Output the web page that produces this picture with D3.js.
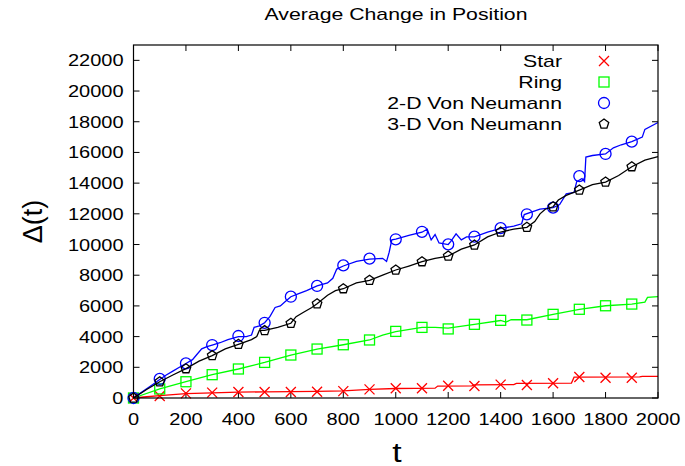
<!DOCTYPE html>
<html>
<head>
<meta charset="utf-8">
<script src="https://cdn.jsdelivr.net/npm/d3@7"></script>
<style>
  body { margin: 0; background: #fff; }
  svg text { font-family: "Liberation Sans", Arial, sans-serif; fill: #000; }
</style>
</head>
<body>
<div id="chart"></div>
<script>
// series names, in legend order
const seriesNames = ["Star", "Ring", "2-D Von Neumann", "3-D Von Neumann"];
const seriesColors = ["#ff0000", "#00ff00", "#0000ff", "#000000"];

// dense traces [t, delta]
const star = [[0,0],[50,80],[100,150],[200,280],[300,340],[400,380],[500,400],[600,410],[700,430],
  [800,470],[900,560],[1000,620],[1150,640],[1160,780],[1290,790],[1300,860],[1450,870],[1460,950],
  [1670,970],[1680,1360],[1930,1370],[1940,1410],[2000,1410]];

const ring = [[0,0],[100,590],[200,1060],[300,1520],[400,1890],[500,2320],[600,2800],[700,3190],
  [800,3470],[900,3780],[950,4100],[1000,4330],[1100,4600],[1150,4600],[1200,4550],[1300,4800],
  [1400,5050],[1420,4950],[1440,5100],[1500,5100],[1600,5450],[1700,5780],[1800,6010],[1900,6120],
  [1950,6250],[1960,6550],[2000,6600]];

const vn2d = [[0,0],[25,300],[50,600],[75,900],[100,1200],[125,1500],[150,1750],[175,2000],[200,2250],
  [225,2500],[240,2800],[260,3200],[280,3350],[300,3450],[330,3600],[360,3800],[400,4000],[430,4000],
  [450,4100],[460,4600],[480,4700],[500,4900],[520,5300],[540,5900],[560,6000],[580,6300],[600,6600],
  [630,6800],[660,7000],[700,7300],[740,7500],[760,7800],[775,8400],[800,8600],[850,8900],[900,9050],
  [950,9100],[965,8900],[975,9500],[985,10300],[1000,10350],[1050,10600],[1100,10800],[1120,11000],
  [1135,10300],[1150,10650],[1165,10100],[1200,10000],[1210,10200],[1230,10700],[1250,10300],
  [1270,10500],[1300,10500],[1350,10800],[1400,11050],[1450,11200],[1480,11350],[1490,11950],
  [1550,12300],[1600,12400],[1625,12600],[1650,13300],[1680,13400],[1690,14100],[1710,14300],
  [1720,14100],[1725,15700],[1750,15800],[1800,15900],[1830,16300],[1860,16500],[1900,16700],
  [1940,17000],[1950,17500],[2000,17950]];

const vn3d = [[0,0],[50,550],[100,1060],[150,1500],[200,1910],[250,2400],[300,2760],[350,3200],
  [400,3500],[450,3800],[470,4000],[480,4400],[500,4400],[550,4600],[600,4870],[620,5300],[650,5600],
  [680,5900],[700,6140],[740,6700],[770,7000],[800,7120],[850,7500],[900,7670],[950,8000],[1000,8340],
  [1050,8600],[1100,8880],[1150,9100],[1200,9250],[1250,9700],[1300,9970],[1350,10500],[1400,10815],
  [1450,11000],[1500,11120],[1530,11500],[1550,12000],[1570,12300],[1600,12460],[1620,12900],
  [1650,13200],[1700,13550],[1750,13900],[1800,14070],[1850,14500],[1900,15070],[1950,15500],
  [2000,15720]];

// point markers every 100 steps
const markerT = [0,100,200,300,400,500,600,700,800,900,1000,1100,1200,1300,1400,1500,1600,1700,1800,1900];
const starMarks = [0,130,300,350,390,390,390,410,450,560,630,630,800,780,870,850,960,1370,1320,1320];
const ringMarks = [0,590,1060,1520,1890,2320,2800,3190,3470,3780,4340,4600,4500,4800,5060,5080,5450,5780,6010,6120];
const vn2dMarks = [0,1240,2260,3450,4040,4900,6600,7300,8640,9080,10340,10830,10010,10510,11070,11970,12400,14460,15900,16700];
const vn3dMarks = [0,1060,1910,2760,3500,4390,4870,6140,7120,7670,8340,8880,9250,9970,10815,11120,12460,13550,14070,15070];

const xTicks = [0,200,400,600,800,1000,1200,1400,1600,1800,2000];
const yTicks = [0,2000,4000,6000,8000,10000,12000,14000,16000,18000,20000,22000];

const width = 685, height = 466;
const margin = {left: 133.5, right: 27, top: 45, bottom: 68};
const stretch = 1.25; // text in the picture is drawn wider than normal

const svg = d3.select("#chart").append("svg")
  .attr("width", width).attr("height", height);

const x = d3.scaleLinear().domain([0, 2000]).range([margin.left, width - margin.right]);
const y = d3.scaleLinear().domain([0, 23000]).range([height - margin.bottom, margin.top]);

function label(txt, px, py, size, anchor) {
  return svg.append("text")
    .attr("transform", `translate(${px},${py}) scale(${stretch},1)`)
    .attr("text-anchor", anchor)
    .attr("font-size", size)
    .text(txt);
}

// ticks, inward on all four sides
const tk = 6;
const axes = svg.append("g").attr("stroke", "#000").attr("stroke-width", 1);
xTicks.forEach(t => {
  axes.append("line").attr("x1", x(t)).attr("x2", x(t)).attr("y1", y(0)).attr("y2", y(0) - tk);
  axes.append("line").attr("x1", x(t)).attr("x2", x(t)).attr("y1", y(23000)).attr("y2", y(23000) + tk);
  label(t, x(t), y(0) + 27, 16, "middle");
});
yTicks.forEach(v => {
  axes.append("line").attr("x1", x(0)).attr("x2", x(0) + tk).attr("y1", y(v)).attr("y2", y(v));
  axes.append("line").attr("x1", x(2000)).attr("x2", x(2000) - tk).attr("y1", y(v)).attr("y2", y(v));
  label(v, x(0) - 10, y(v) + 6, 16, "end");
});

// curves
const line = d3.line().x(d => x(d[0])).y(d => y(d[1]));
const traces = [star, ring, vn2d, vn3d];
const marks = [starMarks, ringMarks, vn2dMarks, vn3dMarks];

function drawMarker(g, i, cx, cy, color) {
  const s = 5;
  if (i === 0) {
    g.append("path").attr("d", `M${cx-s},${cy-s}L${cx+s},${cy+s}M${cx-s},${cy+s}L${cx+s},${cy-s}`)
      .attr("stroke", color).attr("stroke-width", 1.3).attr("fill", "none");
  } else if (i === 1) {
    g.append("rect").attr("x", cx - s).attr("y", cy - s).attr("width", 2 * s).attr("height", 2 * s)
      .attr("stroke", color).attr("stroke-width", 1.3).attr("fill", "none");
  } else if (i === 2) {
    g.append("circle").attr("cx", cx).attr("cy", cy).attr("r", s + 0.5)
      .attr("stroke", color).attr("stroke-width", 1.3).attr("fill", "none");
  } else {
    const pts = d3.range(5).map(k => {
      const a = -Math.PI / 2 + k * 2 * Math.PI / 5;
      return [cx + s * Math.cos(a), cy + s * Math.sin(a)];
    });
    g.append("path").attr("d", "M" + pts.join("L") + "Z")
      .attr("stroke", color).attr("stroke-width", 1.3).attr("fill", "none");
  }
}

traces.forEach((tr, i) => {
  const g = svg.append("g");
  g.append("path").datum(tr).attr("d", line)
    .attr("fill", "none").attr("stroke", seriesColors[i]).attr("stroke-width", 1.3);
  marks[i].forEach((v, k) => drawMarker(g, i, x(markerT[k]), y(v), seriesColors[i]));
});

// frame
svg.append("rect")
  .attr("x", x(0)).attr("y", y(23000))
  .attr("width", x(2000) - x(0)).attr("height", y(0) - y(23000))
  .attr("fill", "none").attr("stroke", "#000").attr("stroke-width", 1.2);

// legend
seriesNames.forEach((name, i) => {
  const ly = 61 + i * 21;
  label(name, 562, ly + 6, 17, "end");
  drawMarker(svg, i, 604, ly, seriesColors[i]);
});

// titles
label("Average Change in Position", 396, 20, 17, "middle");
label("t", 397, 462, 27, "middle");
svg.append("text")
  .attr("transform", `translate(42,${(y(0) + y(23000)) / 2}) rotate(-90)`)
  .attr("text-anchor", "middle").attr("font-size", 27)
  .text("Δ(t)");
</script>
</body>
</html>
